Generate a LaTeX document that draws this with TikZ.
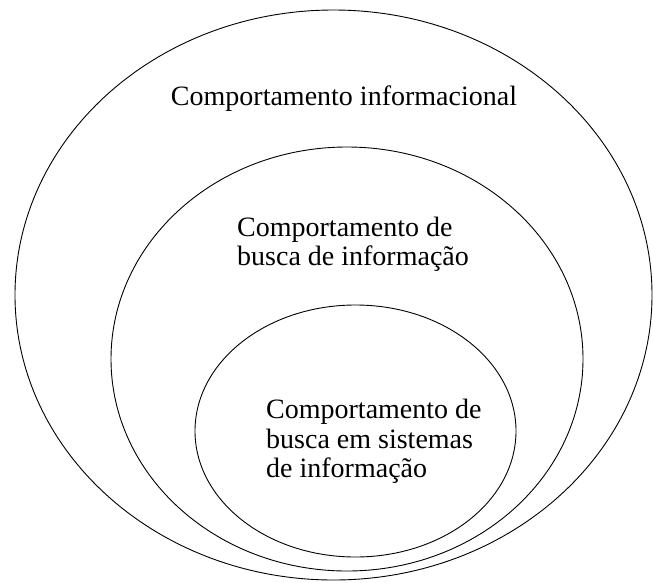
\documentclass[tikz,border=0pt]{standalone}
\usepackage{fontspec}
\setmainfont{Liberation Serif}
\usepackage{tikz}
\usetikzlibrary{positioning}

\begin{document}
\begin{tikzpicture}[x=1pt, y=-1pt,
        ring/.style={draw=black, line width=0.9pt},
        label/.style={inner sep=0pt, align=left, font=\fontsize{28}{29.5}\selectfont}]
        \useasboundingbox (0, 0) rectangle (653, 582);

        % Outer ellipse
        \draw[ring] (333.5, 295) ellipse [x radius=318.5, y radius=285];
        \node[label, anchor=base] (outer) at (344, 105) {Comportamento informacional};

        % Middle ellipse
        \draw[ring] (347, 359) ellipse [x radius=236, y radius=212];
        \node[label, anchor=north west] (middle) at (237, 216.5) {Comportamento de\\busca de informação};

        % Inner ellipse
        \draw[ring] (355.5, 431) ellipse [x radius=160.5, y radius=126];
        \node[label, anchor=north west] (inner) at (266, 399) {Comportamento de\\busca em sistemas\\de informação};
    \end{tikzpicture}
\end{document}
